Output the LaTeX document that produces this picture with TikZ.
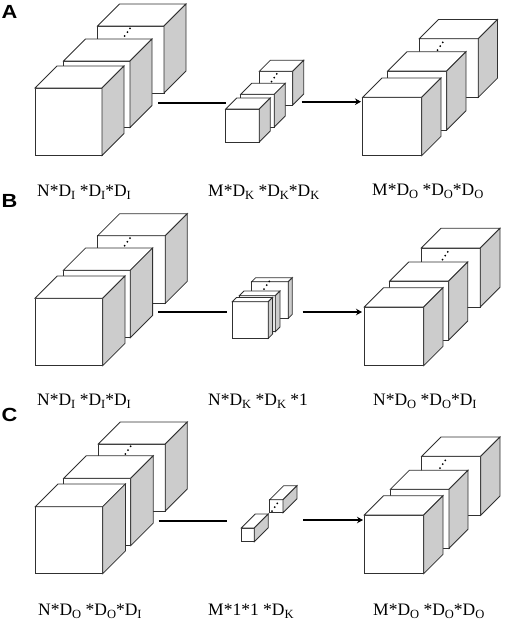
\documentclass[tikz,border=0pt]{standalone}
\usepackage{fontspec}
\setmainfont{Liberation Serif}
\newfontfamily\panelfont{Liberation Sans}
\usetikzlibrary{arrows.meta}
\definecolor{sidegray}{HTML}{CCCCCC}
\definecolor{edgegray}{HTML}{303030}
\newcommand{\lowered}[1]{\raisebox{-3pt}{\fontsize{12.5}{12.5}\selectfont #1}}
\newcommand{\Dd}[1]{D\lowered{#1}}
\newcommand{\panelletter}[1]{\scalebox{1.15}[1]{#1}}
% \boxcube{name}{left}{top}{width}{height}{depth}
\newcommand{\boxcube}[6]{%
  \coordinate (#1) at (#2,#3);
  \draw[edge,fill=white] (#1) -- ++(#4,0) -- ++(0,#5) -- ++(-#4,0) -- cycle;
  \draw[edge,fill=white] (#1) -- ++(#6,-#6) -- ++(#4,0) -- ++(-#6,#6) -- cycle;
  \draw[edge,fill=sidegray] (#1) ++(#4,0) -- ++(#6,-#6) -- ++(0,#5) -- ++(-#6,#6) -- cycle;
}
% \stackdots{x}{y}: three dots climbing to the right
\newcommand{\stackdots}[2]{%
  \fill (#1,#2) circle (1) (#1+2.7,#2-3.9) circle (1) (#1+5.3,#2-7.7) circle (1);
}
\tikzset{
  edge/.style={draw=edgegray,line width=0.8pt,line join=miter},
  link/.style={line width=2pt,black},
  linkarrow/.style={line width=1.6pt,black,-{Stealth[length=6pt,width=6.5pt]}},
  dimlabel/.style={anchor=base west,inner sep=0pt,font=\fontsize{17.5}{17.5}\selectfont},
  panel/.style={anchor=base west,inner sep=0pt,font=\panelfont\bfseries\fontsize{19}{19}\selectfont}
}
\begin{document}
\begin{tikzpicture}[x=1pt,y=-1pt]
\useasboundingbox (0,0) rectangle (505,622);
% ---- A
\node[panel] (pa) at (1.5,18) {\panelletter{A}};
\boxcube{a3}{97.5}{26}{66.5}{67}{22}
\stackdots{124.7}{36}
\boxcube{a2}{63.5}{61}{66.5}{66.5}{22}
\boxcube{a1}{35}{88}{67}{67.5}{22}
\boxcube{a6}{259.3}{71.3}{33.4}{33.7}{11}
\stackdots{271.5}{81.5}
\boxcube{a5}{240.7}{94.3}{33.6}{32.7}{11}
\boxcube{a4}{225.7}{109}{33.6}{33}{11}
\boxcube{a9}{419.3}{38.7}{59}{58.6}{19.2}
\stackdots{437.5}{50}
\boxcube{a8}{387.7}{71}{59}{59}{19.3}
\boxcube{a7}{362.7}{97.3}{59}{58.4}{19.3}
\coordinate (a-s) at (158,103);
\coordinate (a-m) at (226,103);
\coordinate (a-n) at (301.7,101.7);
\coordinate (a-e) at (361,101.7);
\draw[link] (a-s) -- (a-m);
\draw[linkarrow] (a-n) -- (a-e);
\node[dimlabel] (a-l1) at (37,196) {N*\Dd{I} *\Dd{I}*\Dd{I}};
\node[dimlabel] (a-l2) at (208,196) {M*\Dd{K} *\Dd{K}*\Dd{K}};
\node[dimlabel] (a-l3) at (372,195) {M*\Dd{O} *\Dd{O}*\Dd{O}};
% ---- B
\node[panel] (pb) at (1.5,207) {\panelletter{B}};
\boxcube{b3}{97.7}{235.7}{67.6}{67.6}{22}
\stackdots{124.7}{245.7}
\boxcube{b2}{63.3}{270.3}{67}{67.4}{22.3}
\boxcube{b1}{35}{298.3}{67.7}{67.4}{22.3}
\boxcube{b6}{251.7}{281.7}{36.6}{36.6}{4}
\stackdots{264}{289}
\boxcube{b5}{239.3}{295.7}{36}{36}{4.7}
\boxcube{b4}{232.3}{301.7}{36}{36.6}{4.3}
\boxcube{b9}{421.3}{248}{59}{59}{19.7}
\stackdots{442.5}{259.5}
\boxcube{b8}{389.7}{281}{59}{59}{19}
\boxcube{b7}{364.3}{307}{59.4}{58.7}{19.3}
\coordinate (b-s) at (158.3,312.3);
\coordinate (b-m) at (226.7,312.3);
\coordinate (b-n) at (302.7,312);
\coordinate (b-e) at (362,312);
\draw[link] (b-s) -- (b-m);
\draw[linkarrow] (b-n) -- (b-e);
\node[dimlabel] (b-l1) at (37,405) {N*\Dd{I} *\Dd{I}*\Dd{I}};
\node[dimlabel] (b-l2) at (208,405) {N*\Dd{K} *\Dd{K} *1};
\node[dimlabel] (b-l3) at (373,405) {N*\Dd{O} *\Dd{O}*\Dd{I}};
% ---- C
\node[panel] (pc) at (1.5,421.7) {\panelletter{C}};
\boxcube{c3}{98.3}{444}{67}{67}{22}
\stackdots{125.3}{454}
\boxcube{c2}{63.7}{478.3}{67}{67.4}{22.5}
\boxcube{c1}{35.3}{506.7}{67.4}{67}{22.7}
\boxcube{c5}{269.7}{499.7}{13.3}{13}{14}
\stackdots{272}{511}
\boxcube{c4}{241.3}{528}{13}{13.7}{14}
\boxcube{c8}{421.7}{456.3}{59}{59}{19.3}
\stackdots{440}{468}
\boxcube{c7}{390.3}{489.3}{58.7}{59}{19}
\boxcube{c6}{364.3}{515}{59.4}{58.7}{19.3}
\coordinate (c-s) at (158.7,520.7);
\coordinate (c-m) at (226.7,520.7);
\coordinate (c-n) at (303.3,520);
\coordinate (c-e) at (363,520);
\draw[link] (c-s) -- (c-m);
\draw[linkarrow] (c-n) -- (c-e);
\node[dimlabel] (c-l1) at (38,615) {N*\Dd{O} *\Dd{O}*\Dd{I}};
\node[dimlabel] (c-l2) at (208,615) {M*1*1 *\Dd{K}};
\node[dimlabel] (c-l3) at (373,615) {M*\Dd{O} *\Dd{O}*\Dd{O}};
\end{tikzpicture}
\end{document}
